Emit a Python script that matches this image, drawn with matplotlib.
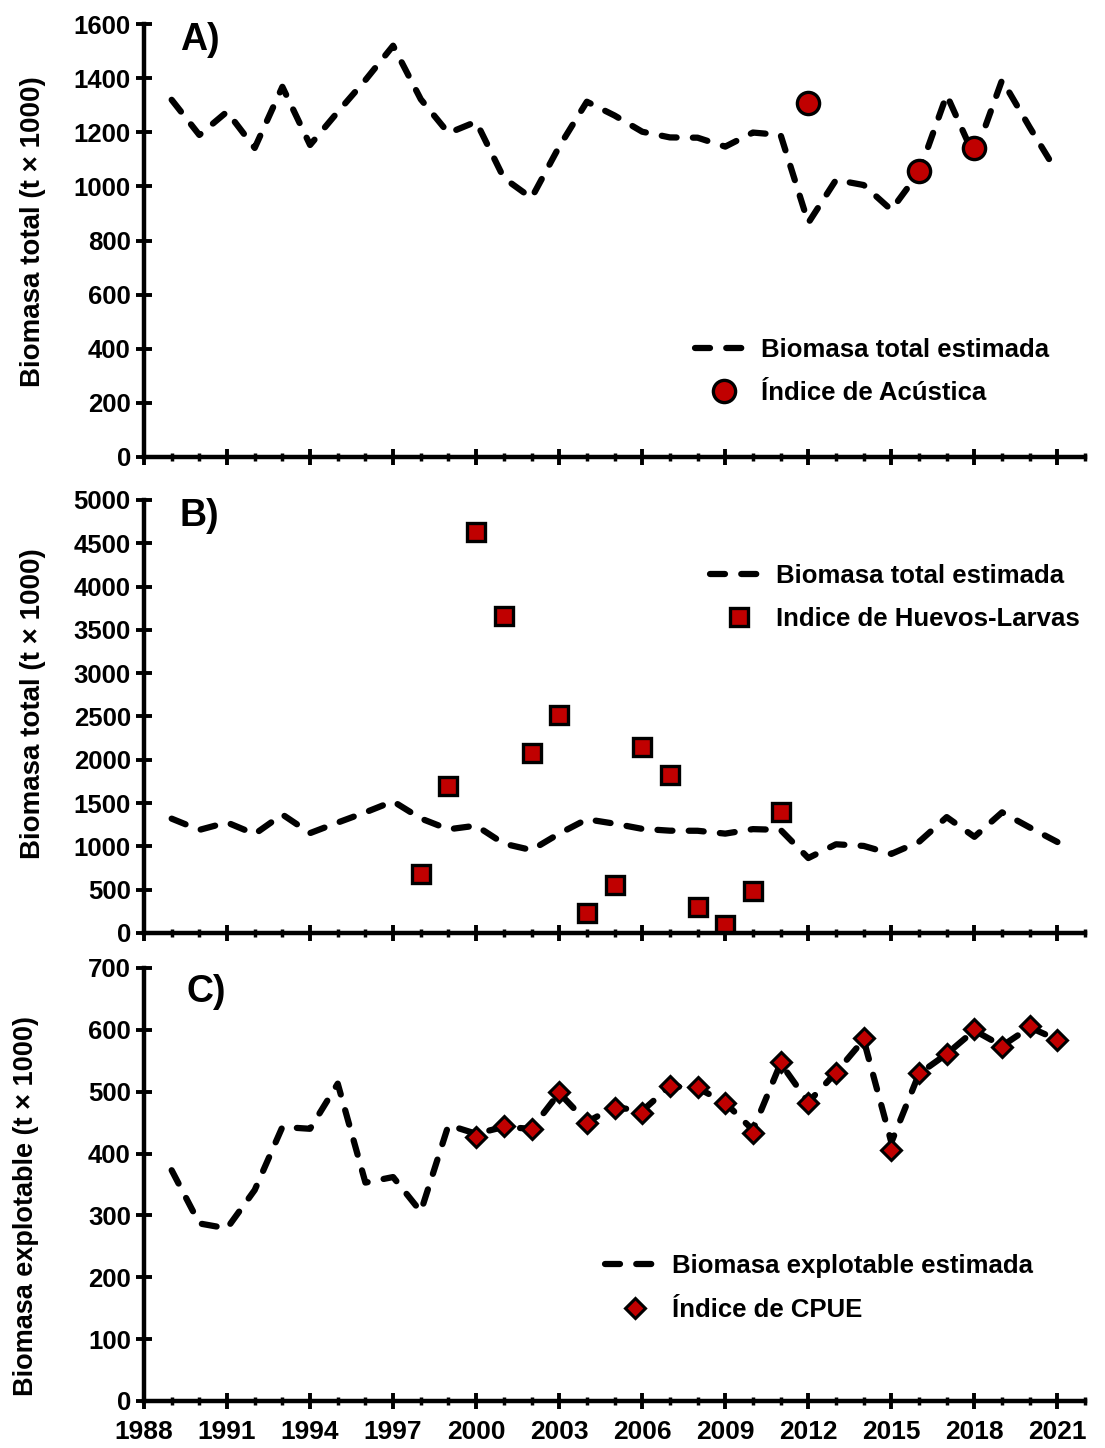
import numpy as np
import matplotlib
matplotlib.use("Agg")
import matplotlib.pyplot as plt
from matplotlib.ticker import MultipleLocator, FixedLocator

plt.rcParams['font.family'] = ['Liberation Sans', 'DejaVu Sans']
plt.rcParams['font.weight'] = 'bold'

years = np.arange(1989, 2022)

# biomasa total estimada (t x 1000), 1989-2021
biomasa_total = [1320, 1190, 1276, 1142, 1368, 1153, 1275, 1393, 1520, 1322,
                 1197, 1239, 1031, 957, 1147, 1313, 1262, 1202, 1181, 1180,
                 1147, 1199, 1190, 865, 1024, 1005, 913, 1052, 1338, 1110,
                 1393, 1218, 1050]

# indice de acustica
acus_years = [2012, 2016, 2018]
acus_vals = [1309, 1057, 1141]

# indice de huevos-larvas
hl_years = list(range(1998, 2012))
hl_vals = [684, 1692, 4634, 3661, 2077, 2519, 231, 552, 2142, 1827,
           296, 88, 481, 1392]

# biomasa explotable estimada, 1989-2021
biomasa_expl = [373, 287, 279, 341, 443, 440, 513, 353, 362, 306,
                446, 432, 443, 440, 498, 451, 475, 469, 509, 506,
                482, 438, 546, 483, 531, 584, 418, 529, 561, 599,
                574, 604, 584]

# indice de CPUE
cpue_years = list(range(2000, 2022))
cpue_vals = [427, 444, 440, 500, 450, 474, 466, 510, 507, 481, 433, 548,
             481, 530, 586, 405, 530, 561, 601, 573, 607, 584]

year_ticks = list(range(1988, 2022, 3))

red = '#C00000'
line_kw = dict(color='black', lw=4.5, linestyle=(0, (2.4, 2.6)),
               dash_capstyle='round')
mk_kw = dict(linestyle='none', markerfacecolor=red, markeredgecolor='black')

fig = plt.figure(figsize=(11.05, 14.48), dpi=100)
left, width = 0.1303, 0.8517
axA = fig.add_axes([left, 0.6844, width, 0.2990])
axB = fig.add_axes([left, 0.3557, width, 0.2990])
axC = fig.add_axes([left, 0.0325, width, 0.2990])


def style(ax, ymax, ystep, show_x):
    ax.set_xlim(1988, 2022)
    ax.set_ylim(0, ymax)
    ax.yaxis.set_major_locator(MultipleLocator(ystep))
    ax.xaxis.set_major_locator(FixedLocator(year_ticks))
    ax.xaxis.set_minor_locator(MultipleLocator(1))
    for s in ('top', 'right'):
        ax.spines[s].set_visible(False)
    for s in ('left', 'bottom'):
        ax.spines[s].set_linewidth(3.2)
    ax.tick_params(axis='y', which='major', direction='inout', length=11,
                   width=2.8, labelsize=18.5, pad=4)
    ax.tick_params(axis='x', which='major', direction='inout', length=12,
                   width=2.8, labelsize=19, pad=8, labelbottom=show_x)
    ax.tick_params(axis='x', which='minor', direction='inout', length=6,
                   width=2.5)
    for lab in ax.get_xticklabels() + ax.get_yticklabels():
        lab.set_fontweight('bold')


def legend(ax, x, y):
    ax.legend(loc='center left', bbox_to_anchor=(x, y), frameon=False,
              fontsize=18.5, handlelength=2.3, handletextpad=0.3,
              labelspacing=0.75, borderpad=0, borderaxespad=0)


# A) biomasa total vs acustica
axA.plot(years, biomasa_total, label='Biomasa total estimada', **line_kw)
axA.plot(acus_years, acus_vals, marker='o', markersize=16,
         markeredgewidth=2.4, label='Índice de Acústica', **mk_kw)
style(axA, 1600, 200, False)
axA.set_ylabel('Biomasa total (t × 1000)', fontsize=20, fontweight='bold')
axA.yaxis.set_label_coords(-0.104, 0.52)
axA.text(0.038, 1.005, 'A)', transform=axA.transAxes, fontsize=27,
         fontweight='bold', va='top', ha='left')
legend(axA, 0.585, 0.197)

# B) biomasa total vs huevos-larvas
axB.plot(years, biomasa_total, label='Biomasa total estimada', **line_kw)
axB.plot(hl_years, hl_vals, marker='s', markersize=13, markeredgewidth=2.4,
         label='Indice de Huevos-Larvas', **mk_kw)
style(axB, 5000, 500, False)
axB.set_ylabel('Biomasa total (t × 1000)', fontsize=20, fontweight='bold')
axB.yaxis.set_label_coords(-0.104, 0.53)
axB.text(0.038, 1.005, 'B)', transform=axB.transAxes, fontsize=27,
         fontweight='bold', va='top', ha='left')
legend(axB, 0.601, 0.775)

# C) biomasa explotable vs CPUE
axC.plot(years, biomasa_expl, label='Biomasa explotable estimada', **line_kw)
axC.plot(cpue_years, cpue_vals, marker='D', markersize=10.5,
         markeredgewidth=2.2, label='Índice de CPUE', **mk_kw)
style(axC, 700, 100, True)
axC.set_ylabel('Biomasa explotable (t × 1000)', fontsize=19.5,
               fontweight='bold')
axC.yaxis.set_label_coords(-0.112, 0.45)
axC.text(0.045, 0.985, 'C)', transform=axC.transAxes, fontsize=27,
         fontweight='bold', va='top', ha='left')
legend(axC, 0.49, 0.261)

fig.savefig('out.png', dpi=100)
